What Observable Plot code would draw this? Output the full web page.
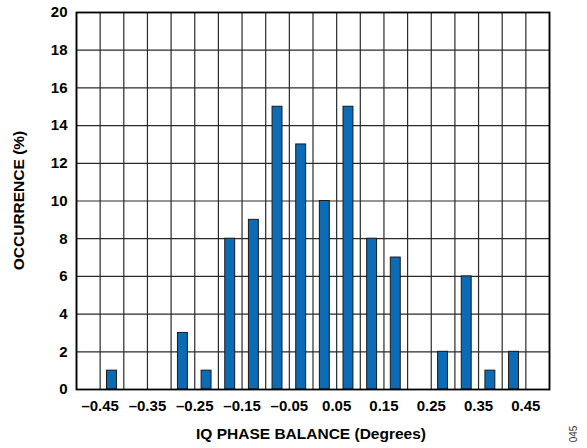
<!DOCTYPE html>
<html>
<head>
<meta charset="utf-8">
<script src="https://cdn.jsdelivr.net/npm/d3@7"></script>
<script src="https://cdn.jsdelivr.net/npm/@observablehq/plot@0.6"></script>
<style>
  html, body { margin: 0; padding: 0; background: #fff; }
  #chart { position: relative; width: 587px; height: 448px; }
</style>
</head>
<body>
<div id="chart"></div>
<script>
// Bin centers (degrees) and occurrence (%)
const binCenters = [-0.425, -0.275, -0.225, -0.175, -0.125, -0.075, -0.025, 0.025, 0.075, 0.125, 0.175, 0.275, 0.325, 0.375, 0.425];
const occurrence = [1, 3, 1, 8, 9, 15, 13, 10, 15, 8, 7, 2, 6, 1, 2];
const xTickValues = [-0.45, -0.35, -0.25, -0.15, -0.05, 0.05, 0.15, 0.25, 0.35, 0.45];
const xGridValues = d3.range(-0.5, 0.5001, 0.05).map(v => +v.toFixed(2));
const yTickValues = [0, 2, 4, 6, 8, 10, 12, 14, 16, 18, 20];
const xTitle = "IQ PHASE BALANCE (Degrees)";
const yTitle = "OCCURRENCE (%)";
const figureId = "045";

const halfBar = 0.0105;
const data = binCenters.map((c, i) => ({x1: c - halfBar, x2: c + halfBar, y: occurrence[i]}));
const fmt = v => (v < 0 ? "\u2013" : "") + Math.abs(v).toFixed(2);

const W = 587, H = 448, ML = 76, MR = 38, MT = 12, MB = 59;

const plot = Plot.plot({
  width: W, height: H,
  marginLeft: ML, marginRight: MR, marginTop: MT, marginBottom: MB,
  style: {fontFamily: "'Liberation Sans', Arial, sans-serif", fontSize: "15px", fontWeight: "bold", color: "#000", background: "#fff"},
  x: {domain: [-0.5, 0.5]},
  y: {domain: [0, 20]},
  marks: [
    Plot.ruleX(xGridValues, {stroke: "#2a2a2a", strokeWidth: 1.2, strokeOpacity: 1}),
    Plot.ruleY(yTickValues, {stroke: "#2a2a2a", strokeWidth: 1.2, strokeOpacity: 1}),
    Plot.rectY(data, {x1: "x1", x2: "x2", y: "y", fill: "#0b6cb5", stroke: "#1a1a1a", strokeWidth: 1}),
    Plot.frame({stroke: "#000", strokeWidth: 1.8}),
    Plot.axisX({ticks: xTickValues, tickFormat: fmt, tickSize: 0, tickPadding: 11, label: null, fontSize: 15, fontWeight: "bold"}),
    Plot.axisY({ticks: yTickValues, tickFormat: d => d, tickSize: 0, tickPadding: 9, label: null, fontSize: 15, fontWeight: "bold"})
  ]
});

const svg = d3.select(plot);
svg.append("text")
  .attr("x", 311)
  .attr("y", 439)
  .attr("text-anchor", "middle")
  .attr("font-size", 15.5).attr("font-weight", "bold")
  .attr("fill", "#000")
  .text(xTitle);
svg.append("text")
  .attr("transform", `translate(24,${MT + (H - MT - MB) / 2}) rotate(-90)`)
  .attr("text-anchor", "middle")
  .attr("font-size", 15.5).attr("font-weight", "bold")
  .attr("fill", "#000")
  .text(yTitle);
svg.append("text")
  .attr("transform", `translate(577,434) rotate(-90)`)
  .attr("text-anchor", "middle")
  .attr("font-size", 10).attr("font-weight", "normal")
  .attr("fill", "#333")
  .text(figureId);

document.getElementById("chart").appendChild(plot);
</script>
</body>
</html>
